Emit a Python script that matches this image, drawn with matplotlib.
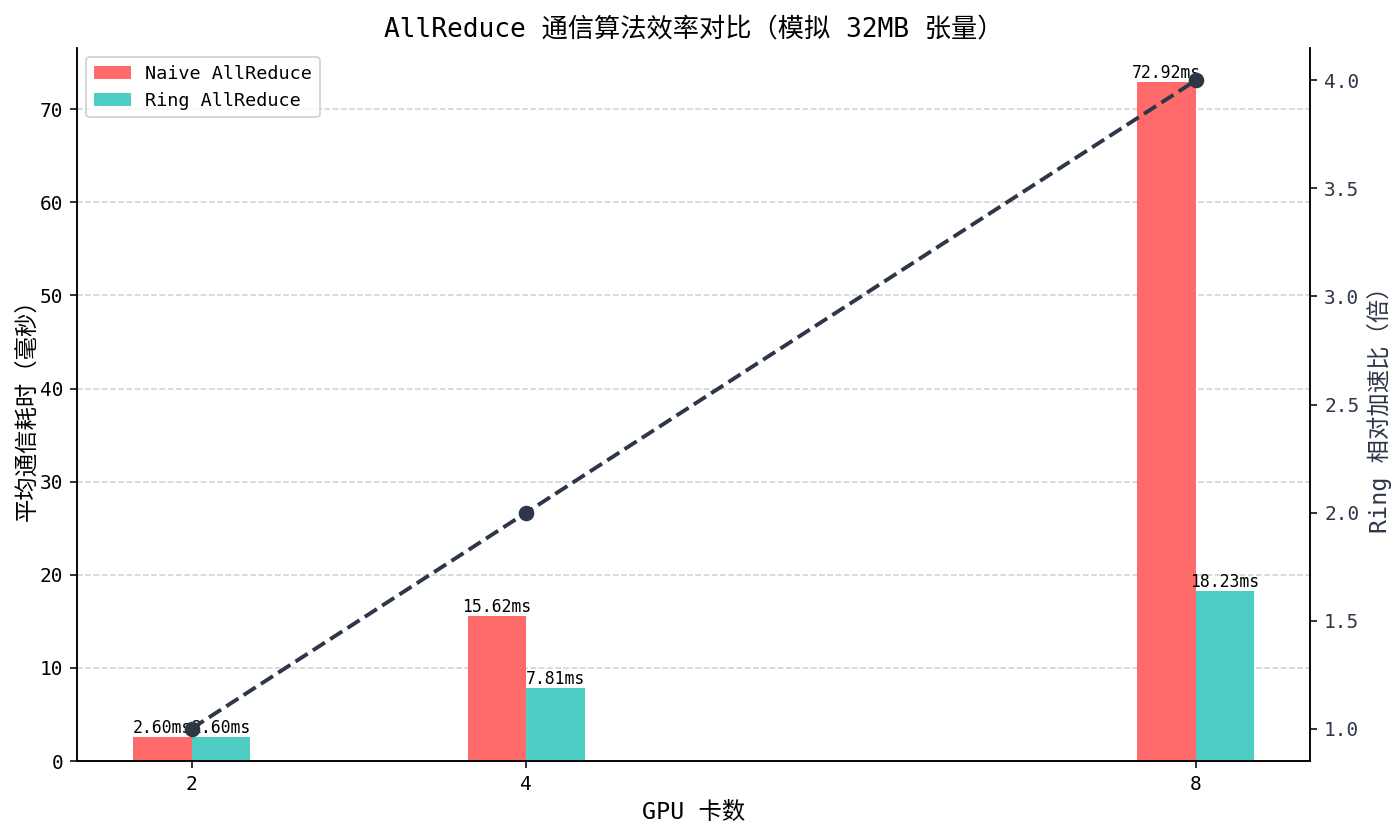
import matplotlib
matplotlib.use('Agg')
import matplotlib.pyplot as plt
import numpy as np

plt.rcParams['font.family'] = ['DejaVu Sans Mono', 'Noto Sans CJK SC']
plt.rcParams['axes.unicode_minus'] = False

# 数据
gpu_counts = [2, 4, 8]
naive_ms = [2.60, 15.62, 72.92]
ring_ms = [2.60, 7.81, 18.23]
speedup = [1.0, 2.0, 4.0]

x = np.array(gpu_counts, dtype=float)
width = 0.35

fig, ax1 = plt.subplots(figsize=(10, 835 / 140), dpi=140)
fig.subplots_adjust(left=0.055, right=0.936, top=0.9425, bottom=0.0886)
ax1.set_axisbelow(True)

b1 = ax1.bar(x - width / 2, naive_ms, width, label='Naive AllReduce', color='#ff6b6b')
b2 = ax1.bar(x + width / 2, ring_ms, width, label='Ring AllReduce', color='#4ecdc4')

for bars in (b1, b2):
    for b in bars:
        h = b.get_height()
        ax1.text(b.get_x() + b.get_width() / 2, h, f'{h:.2f}ms',
                 ha='center', va='bottom', fontsize=8.5)

ax1.set_xlabel('GPU 卡数', fontsize=12)
ax1.set_ylabel('平均通信耗时（毫秒）', fontsize=12, labelpad=1)
ax1.set_xticks(x)
ax1.set_xticklabels([str(g) for g in gpu_counts])
ax1.tick_params(labelsize=10)
ax1.grid(axis='y', linestyle='--', alpha=0.6)
ax1.spines['top'].set_visible(False)
ax1.legend(loc='upper left', fontsize=9.5)

ax2 = ax1.twinx()
ax2.plot(x, speedup, color='#2d3748', linestyle='--', marker='o',
         linewidth=2, markersize=7, label='Ring 加速比')
ax2.set_ylabel('Ring 相对加速比（倍）', fontsize=12, color='#2d3748')
ax2.tick_params(axis='y', labelcolor='#2d3748', labelsize=10)
ax2.spines['top'].set_visible(False)

plt.title('AllReduce 通信算法效率对比（模拟 32MB 张量）', fontsize=13.5)
plt.savefig('out.png')
